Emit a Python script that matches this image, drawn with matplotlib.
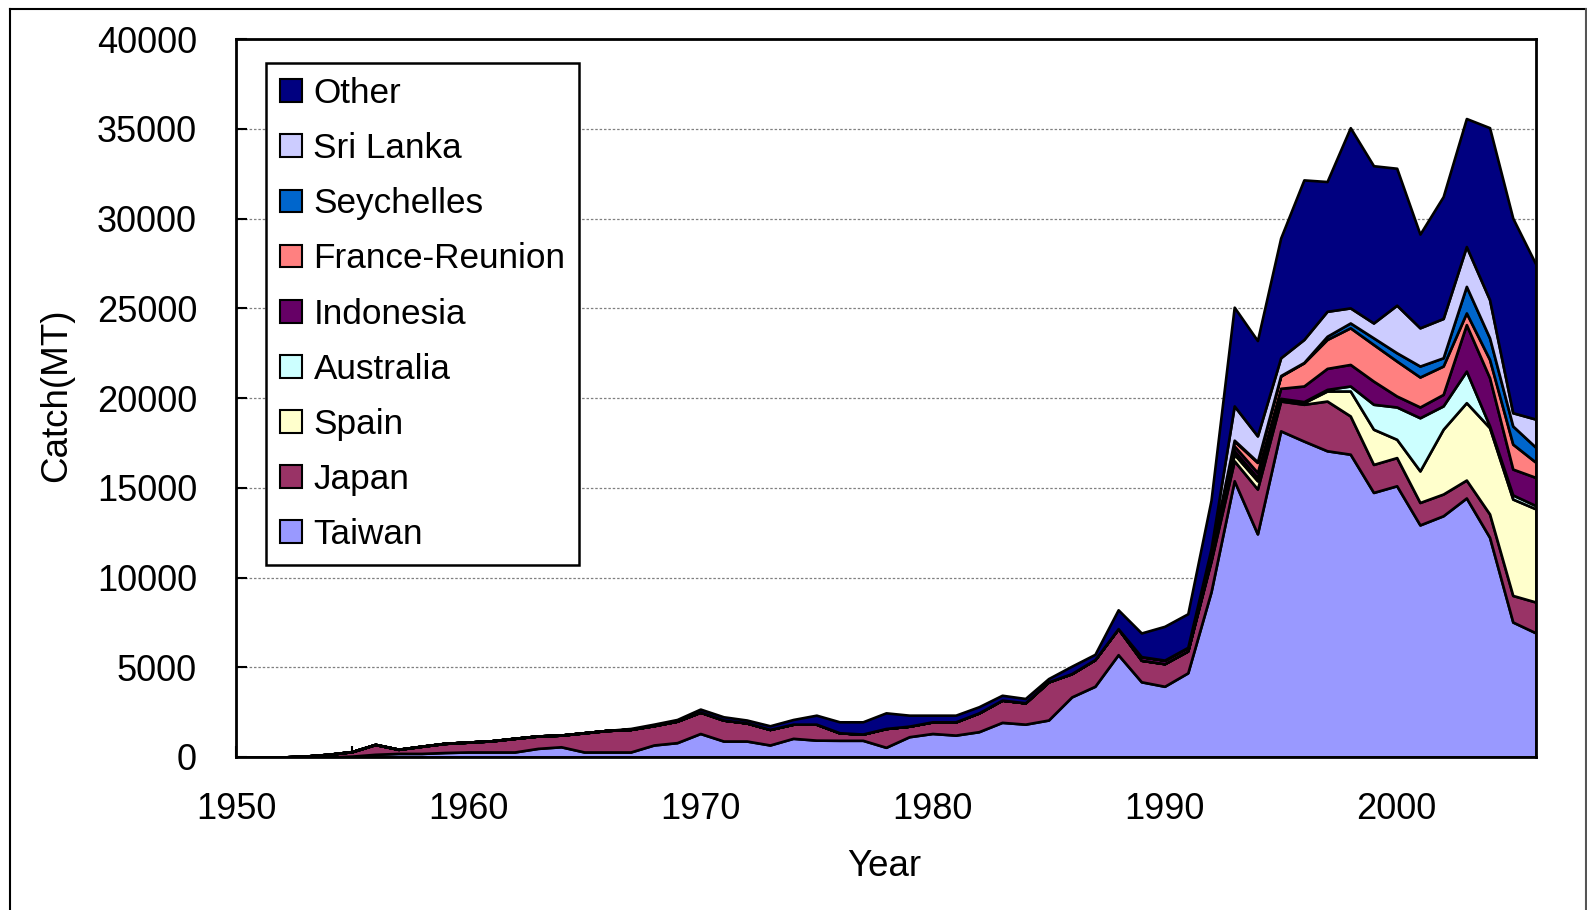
import numpy as np
import matplotlib
matplotlib.use('Agg')
import matplotlib.pyplot as plt
from matplotlib.ticker import MultipleLocator, FuncFormatter
from matplotlib.patches import Patch

plt.rcParams['font.family'] = ['Liberation Sans', 'DejaVu Sans']

#%% data (catch in thousand MT)
years = np.arange(1950, 2007)

taiwan = [0, 0, 0, 0, 0, 0.05, 0.15, 0.2, 0.2, 0.25,
          0.28, 0.28, 0.28, 0.48, 0.57, 0.28, 0.28, 0.28, 0.67, 0.8,
          1.31, 0.89, 0.89, 0.67, 1.04, 0.94, 0.93, 0.93, 0.54, 1.13,
          1.31, 1.22, 1.41, 1.93, 1.83, 2.06, 3.35, 3.94, 5.7, 4.19,
          3.94, 4.69, 9.2, 15.39, 12.43, 18.17, 17.6, 17.06, 16.87, 14.74,
          15.11, 12.93, 13.44, 14.43, 12.24, 7.52, 6.91]
japan = [0, 0, 0, 0.05, 0.15, 0.25, 0.55, 0.23, 0.4, 0.51,
         0.55, 0.62, 0.76, 0.69, 0.65, 1.07, 1.2, 1.26, 1.08, 1.2,
         1.19, 1.17, 1.01, 0.87, 0.79, 0.89, 0.42, 0.35, 1.05, 0.59,
         0.65, 0.74, 1.05, 1.24, 1.19, 2.13, 1.3, 1.49, 1.45, 1.2,
         1.26, 1.22, 1.7, 1.11, 2.5, 1.66, 2.05, 2.77, 2.13, 1.56,
         1.57, 1.25, 1.21, 1.0, 1.3, 1.48, 1.72]
spain = [0] * 42 + [0.1, 0.37, 0.46, 0.1, 0.09, 0.56, 1.39, 1.96,
                    1.02, 1.76, 3.61, 4.31, 4.81, 5.37, 5.19]
australia = [0] * 43 + [0.19, 0.18, 0.05, 0.06, 0.09, 0.28, 1.39,
                        1.8, 2.96, 1.3, 1.76, 0.1, 0.23, 0.18]
indonesia = [0] * 39 + [0.2, 0.2, 0.2, 0.3, 0.27, 0.28, 0.56, 0.87, 1.17, 1.2, 1.29,
                        0.61, 0.6, 0.64, 2.59, 2.68, 1.44, 1.57]
france = [0] * 42 + [0.1, 0.28, 0.56, 0.68, 1.29, 1.61, 2.04, 2.04,
                     1.95, 1.67, 1.58, 0.65, 1.02, 1.39, 0.84]
seychelles = [0] * 43 + [0.04, 0.04, 0.03, 0.02, 0.18, 0.27, 0.37,
                         0.46, 0.61, 0.46, 1.48, 1.2, 1.01, 0.83]
srilanka = [0] * 42 + [0.2, 1.91, 1.44, 0.99, 1.28, 1.39, 0.84, 0.83,
                       2.65, 2.13, 2.19, 2.22, 2.13, 0.74, 1.58]
other = [0, 0, 0, 0, 0, 0, 0, 0, 0, 0,
         0, 0, 0, 0, 0, 0, 0, 0.05, 0.08, 0.09,
         0.17, 0.18, 0.16, 0.2, 0.26, 0.5, 0.61, 0.68, 0.87, 0.61,
         0.37, 0.37, 0.34, 0.27, 0.24, 0.18, 0.41, 0.29, 1.05, 1.32,
         1.88, 1.87, 2.7, 5.5, 5.31, 6.67, 8.89, 7.23, 10.04, 8.76,
         7.63, 5.22, 6.79, 7.13, 9.58, 10.84, 8.61]

names = ['Taiwan', 'Japan', 'Spain', 'Australia', 'Indonesia',
         'France-Reunion', 'Seychelles', 'Sri Lanka', 'Other']
colors = ['#9999FF', '#993366', '#FFFFCC', '#CCFFFF', '#660066',
          '#FF8080', '#0066CC', '#CCCCFF', '#000080']

series = [taiwan, japan, spain, australia, indonesia, france,
          seychelles, srilanka, other]
series = [np.array(s) * 1000 for s in series]

#%% plot
fig = plt.figure(figsize=(15.87, 9.10), dpi=100)
ax = fig.add_axes([236/1587, 1-757/910, 1300/1587, 718/910])

ax.stackplot(years, *series, colors=colors, edgecolor='black',
             linewidth=1.9, zorder=3)

ax.set_xlim(1950, 2006)
ax.set_ylim(0, 40000)

ax.xaxis.set_major_locator(MultipleLocator(5))
ax.xaxis.set_major_formatter(FuncFormatter(
    lambda v, p: '%d' % v if int(round(v)) % 10 == 0 else ''))
ax.yaxis.set_major_locator(MultipleLocator(5000))

ax.tick_params(axis='x', direction='in', length=8, width=1.5,
               labelsize=26, pad=25)
ax.tick_params(axis='y', direction='in', length=8, width=1.5,
               labelsize=26, pad=28)

ax.grid(axis='y', color='#808080', linestyle=(0, (2, 1.5)),
        linewidth=0.9, zorder=0)
ax.set_axisbelow(True)

for sp in ax.spines.values():
    sp.set_linewidth(2)
    sp.set_zorder(5)

fig.text(57/1587, 1-395/910, 'Catch(MT)', rotation=90,
         ha='center', va='center', fontsize=26.5)
fig.text(884/1587, 1-866/910, 'Year', ha='center', va='center',
         fontsize=26.5)

handles = [Patch(facecolor=c, edgecolor='black', linewidth=1.5)
           for c in colors]
leg = ax.legend(handles[::-1], names[::-1], loc='upper left',
                bbox_to_anchor=((266-236)/1300, (757-63)/718),
                borderaxespad=0, fontsize=25.3, frameon=True,
                fancybox=False, edgecolor='black', framealpha=1,
                handlelength=0.62, handleheight=0.62,
                handletextpad=0.33, labelspacing=0.63, borderpad=0.4)
leg.get_frame().set_linewidth(1.8)
leg.set_zorder(10)

# outer chart border
fig.add_artist(plt.Line2D([9.5/1587, 9.5/1587], [0, 1-8.5/910],
                          transform=fig.transFigure, color='black', lw=1.5))
fig.add_artist(plt.Line2D([9.5/1587, 1586/1587], [1-8.5/910, 1-8.5/910],
                          transform=fig.transFigure, color='black', lw=1.5))
fig.add_artist(plt.Line2D([1586/1587, 1586/1587], [0, 1-8.5/910],
                          transform=fig.transFigure, color='#555555', lw=1.5))

plt.savefig('out.png', dpi=100)
